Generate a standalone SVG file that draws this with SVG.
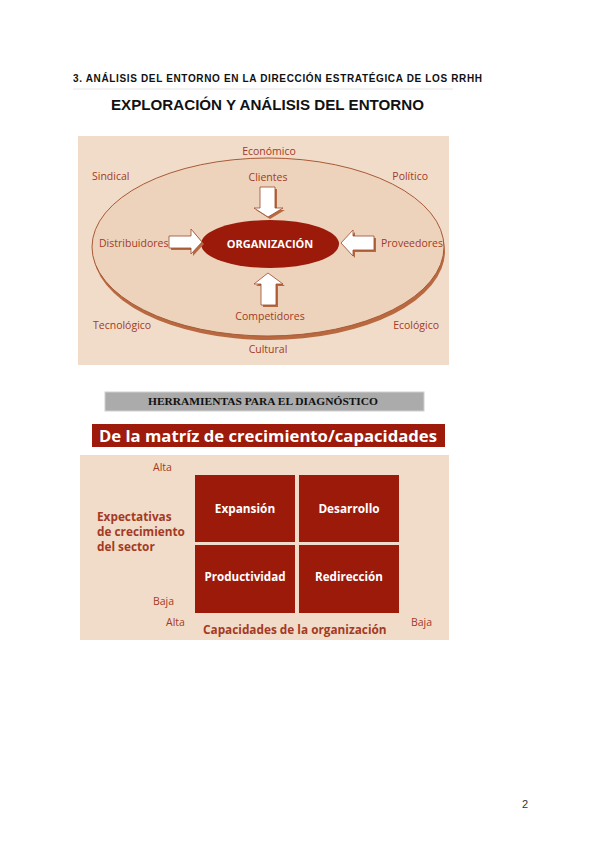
<svg xmlns="http://www.w3.org/2000/svg" width="600" height="848" viewBox="0 0 600 848">
<style>
.lbl{font-family:"Open Sans","Liberation Sans",sans-serif;font-size:10.5px;fill:#a33a26}
.wb{font-family:"Open Sans","Liberation Sans",sans-serif;font-weight:bold;fill:#ffffff}
.bl{font-family:"Open Sans","Liberation Sans",sans-serif;font-weight:bold;fill:#a33a26;font-size:11.8px}
.arrow{fill:#ffffff;stroke:#9a4a2e;stroke-width:0.8}
.ash{fill:#b8693f}
.box{fill:#9b1a0a}
</style>
<rect width="600" height="848" fill="#ffffff"/>
<text x="73" y="82" font-family="Liberation Sans,Arial,sans-serif" font-weight="bold" font-size="10" fill="#111" textLength="409" lengthAdjust="spacing">3. ANÁLISIS DEL ENTORNO EN LA DIRECCIÓN ESTRATÉGICA DE LOS RRHH</text>
<line x1="73" y1="89" x2="453" y2="89" stroke="#e6e6e6" stroke-width="1"/>
<text x="111" y="110" font-family="Liberation Sans,Arial,sans-serif" font-weight="bold" font-size="15.5" fill="#111" textLength="313" lengthAdjust="spacingAndGlyphs">EXPLORACIÓN Y ANÁLISIS DEL ENTORNO</text>

<g id="entorno">
<rect x="78" y="136" width="371" height="229" fill="#f1dcc9"/>
<ellipse cx="269" cy="251" rx="176" ry="89" fill="#b8693f"/>
<ellipse cx="268" cy="247" rx="176" ry="89" fill="#edd3bb" stroke="#a85a38" stroke-width="1"/>
</g>
<g id="organizacion">
<ellipse cx="270" cy="244" rx="69" ry="24" fill="#9b1a0a"/>
<text x="270" y="248" class="wb" font-size="11" text-anchor="middle">ORGANIZACIÓN</text>
</g>
<g id="labels">
<text x="269" y="155" class="lbl" text-anchor="middle">Económico</text>
<text x="92" y="180" class="lbl">Sindical</text>
<text x="428" y="180" class="lbl" text-anchor="end">Político</text>
<text x="268" y="181" class="lbl" text-anchor="middle">Clientes</text>
<text x="99" y="247" class="lbl">Distribuidores</text>
<text x="381" y="247" class="lbl">Proveedores</text>
<text x="270" y="320" class="lbl" text-anchor="middle">Competidores</text>
<text x="93" y="329" class="lbl">Tecnológico</text>
<text x="439" y="329" class="lbl" text-anchor="end">Ecológico</text>
<text x="268" y="353" class="lbl" text-anchor="middle">Cultural</text>
</g>
<g id="connectors">
<polygon class="ash" points="262,189 277,189 277,210 285,210 270,219 256,210 262,210"/>
<polygon class="arrow" points="260,187 275,187 275,208 283,208 268,217 254,208 260,208"/>
<polygon class="ash" points="171,238 193,238 193,231 204,244 193,256 193,250 171,250"/>
<polygon class="arrow" points="169,236 191,236 191,229 202,242 191,254 191,248 169,248"/>
<polygon class="ash" points="376,238 355,238 355,232 343,245 355,258 355,252 376,252"/>
<polygon class="arrow" points="374,236 353,236 353,230 341,243 353,256 353,250 374,250"/>
<polygon class="ash" points="270,275 285,286 278,286 278,307 263,307 263,286 256,286"/>
<polygon class="arrow" points="268,273 283,284 276,284 276,305 261,305 261,284 254,284"/>
</g>

<g id="herramientas">
<rect x="105" y="392" width="319" height="19" fill="#ababab" stroke="#d0d0d0" stroke-width="1"/>
<text x="148" y="405" font-family="Liberation Serif,Times New Roman,serif" font-weight="bold" font-size="10" fill="#111" textLength="230" lengthAdjust="spacingAndGlyphs">HERRAMIENTAS PARA EL DIAGNÓSTICO</text>
</g>
<g id="banner">
<rect x="92" y="424" width="353" height="23" fill="#9e1a0a"/>
<text x="99" y="442" class="wb" font-size="16" textLength="338" lengthAdjust="spacingAndGlyphs">De la matríz de crecimiento/capacidades</text>
</g>
<g id="matriz">
<rect x="80" y="455" width="369" height="185" fill="#f1dcc9"/>
<text x="153" y="471" class="lbl">Alta</text>
<text x="97" y="521" class="bl">Expectativas</text>
<text x="97" y="536" class="bl">de crecimiento</text>
<text x="97" y="551" class="bl">del sector</text>
<text x="153" y="605" class="lbl">Baja</text>
<text x="166" y="626" class="lbl">Alta</text>
<text x="203" y="634" class="bl">Capacidades de la organización</text>
<text x="411" y="626" class="lbl">Baja</text>
</g>
<g id="expansion"><rect class="box" x="195" y="475" width="100" height="67"/><text x="245" y="513" class="wb" font-size="11.8" text-anchor="middle">Expansión</text></g>
<g id="desarrollo"><rect class="box" x="299" y="475" width="100" height="67"/><text x="349" y="513" class="wb" font-size="11.8" text-anchor="middle">Desarrollo</text></g>
<g id="productividad"><rect class="box" x="195" y="545" width="100" height="68"/><text x="245" y="581" class="wb" font-size="11.6" text-anchor="middle">Productividad</text></g>
<g id="redireccion"><rect class="box" x="299" y="545" width="100" height="68"/><text x="349" y="581" class="wb" font-size="11.6" text-anchor="middle">Redirección</text></g>
<text x="522" y="808" font-family="Liberation Sans,Arial,sans-serif" font-size="11" fill="#333">2</text>
</svg>
